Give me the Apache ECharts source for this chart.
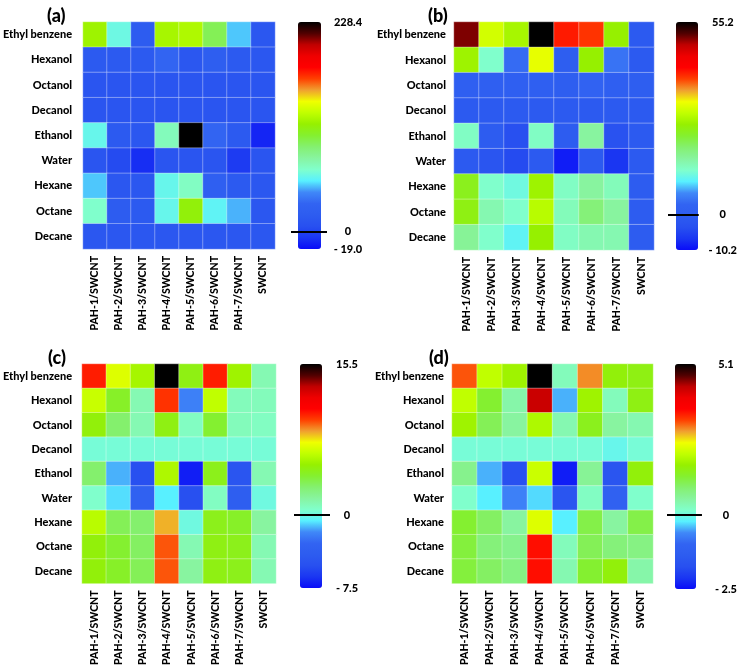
<!DOCTYPE html>
<html><head><meta charset="utf-8">
<script src="https://cdn.jsdelivr.net/npm/echarts@6/dist/echarts.min.js"></script>
<style>html,body{margin:0;padding:0;background:#fff}#c{width:740px;height:668px}</style>
</head><body><div id="c"></div>
<script>
const solvents = ['Ethyl benzene','Hexanol','Octanol','Decanol','Ethanol','Water','Hexane','Octane','Decane'];
const composites = ['PAH-1/SWCNT','PAH-2/SWCNT','PAH-3/SWCNT','PAH-4/SWCNT','PAH-5/SWCNT','PAH-6/SWCNT','PAH-7/SWCNT','SWCNT'];
const panelTitles = ['(a)','(b)','(c)','(d)'];

const rangeA = [-19.0, 228.4];
const rangeB = [-10.2, 55.2];
const rangeC = [-7.5, 15.5];
const rangeD = [-2.5, 5.1];

const scaleLabelsA = ['228.4','0','- 19.0'];
const scaleLabelsB = ['55.2','0','- 10.2'];
const scaleLabelsC = ['15.5','0','- 7.5'];
const scaleLabelsD = ['5.1','0','- 2.5'];

const valuesA = [
  [119.5, 62.0, 18.1, 122.0, 124.5, 97.3, 50.3, 13.2],
  [15.6, 15.6, 15.6, 30.5, 13.2, 20.6, 15.6, 13.2],
  [10.7, 10.7, 10.7, 10.7, 10.7, 10.7, 10.7, 10.7],
  [10.7, 10.7, 10.7, 10.7, 10.7, 10.7, 10.7, 10.7],
  [60.0, 15.6, 13.2, 72.5, 228.4, 30.5, 15.6, -11.6],
  [10.7, 3.3, -9.1, 10.7, 10.7, 10.7, -4.2, 10.7],
  [50.3, 13.2, 13.2, 60.0, 70.0, 23.0, 15.6, 13.2],
  [67.6, 18.1, 15.6, 60.0, 114.6, 57.7, 47.8, 13.2],
  [13.2, 13.2, 13.2, 13.2, 13.2, 13.2, 13.2, 13.2]
];
const valuesB = [
  [50.6, 30.3, 27.1, 55.2, 40.8, 39.5, 25.8, -1.0],
  [26.4, 12.7, 3.5, 31.7, 0.3, 25.8, 4.2, -1.0],
  [0.9, 0.9, 0.9, 0.9, 0.3, 2.2, 0.9, 0.3],
  [-1.0, -1.0, -1.0, -1.0, -1.0, -1.0, -1.0, -1.0],
  [13.3, -0.4, -3.7, 13.3, -0.4, 16.0, -3.0, -1.0],
  [-1.0, -2.4, -4.3, -1.0, -8.9, -1.0, -6.9, -1.0],
  [23.8, 12.7, 11.4, 26.4, 13.3, 16.0, 14.0, -0.4],
  [24.5, 14.7, 12.7, 28.4, 14.0, 18.6, 16.0, -0.4],
  [16.6, 12.7, 10.1, 25.8, 13.3, 14.7, 14.7, -0.4]
];
const valuesC = [
  [10.4, 7.0, 5.6, 15.5, 4.7, 10.4, 5.4, 1.2],
  [6.5, 4.2, 1.2, 10.0, -2.0, 6.3, 1.0, 1.0],
  [4.9, 2.9, 1.2, 4.7, 0.8, 4.0, 1.0, 0.8],
  [0.3, 0.3, 0.3, 0.3, 0.3, 0.3, 0.3, 0.3],
  [2.9, -1.3, -5.2, 5.8, -7.0, 4.5, -4.7, 1.2],
  [0.55, -0.8, -3.4, -0.6, -5.2, 0.8, -3.8, 0.1],
  [6.1, 3.3, 2.9, 8.4, 0.1, 4.5, 4.2, 1.7],
  [4.9, 4.0, 3.1, 9.5, 1.2, 4.7, 4.5, 1.2],
  [4.9, 4.2, 3.3, 9.5, 1.7, 4.7, 4.5, 1.2]
];
const valuesD = [
  [3.12, 2.06, 1.76, 5.1, 0.31, 2.9, 1.6, 1.53],
  [2.06, 1.3, 0.46, 4.26, -0.45, 1.76, 0.31, 1.53],
  [1.76, 1.07, 0.54, 1.9, 0.39, 1.45, 0.54, 0.39],
  [0.08, 0.08, 0.08, 0.08, 0.08, 0.08, -0.07, 0.08],
  [0.69, -0.45, -1.74, 2.14, -2.35, 0.62, -1.59, 1.6],
  [0.16, -0.22, -0.68, -0.3, -1.59, 0.24, -1.13, 0.16],
  [1.3, 1.0, 0.54, 2.29, -0.22, 1.15, 0.54, 1.15],
  [1.22, 0.84, 0.69, 3.5, 0.31, 1.07, 0.84, 0.77],
  [1.22, 1.0, 0.77, 3.5, 0.39, 1.3, 1.6, 0.46]
];

const palette = ['#0a0cf8','#1a36f2','#2850f0','#2d5cf0','#3264f2','#4088f8','#58f0ff','#80ffcc','#88f4a0','#84f070',
  '#84f030','#96f000','#c0ff00','#f0ff00','#f0a030','#ff4000','#ff0000','#f00000','#c00000','#500000','#000000'];

const panels = [
  {values: valuesA, range: rangeA, labels: scaleLabelsA, title: panelTitles[0]},
  {values: valuesB, range: rangeB, labels: scaleLabelsB, title: panelTitles[1]},
  {values: valuesC, range: rangeC, labels: scaleLabelsC, title: panelTitles[2]},
  {values: valuesD, range: rangeD, labels: scaleLabelsD, title: panelTitles[3]}
];

// layout only
const layout = [
  {grid:{left:77,top:22,width:198,height:227}, ymargin:11, bar:{left:298,width:23}, cb:{left:291,width:36}, lblMargin:21, title:{left:42,top:2}},
  {grid:{left:454,top:22,width:200,height:228}, ymargin:8, bar:{left:676,width:22}, cb:{left:668,width:35}, lblMargin:24, title:{left:423,top:2}},
  {grid:{left:74,top:364,width:202,height:224}, ymargin:10, bar:{left:300,width:22}, cb:{left:294,width:36}, lblMargin:17, title:{left:43,top:344}},
  {grid:{left:452,top:364,width:201,height:225}, ymargin:8, bar:{left:675,width:21}, cb:{left:667,width:36}, lblMargin:24, title:{left:424,top:344}}
];

const FONT = 'Lato';
const option = {
  animation:false, backgroundColor:'#fff',
  title:[], grid:[], xAxis:[], yAxis:[], series:[], visualMap:[]
};

panels.forEach((p, i) => {
  const L = layout[i];
  option.title.push({text:p.title, left:L.title.left, top:L.title.top,
    textStyle:{fontFamily:FONT, fontWeight:900, fontSize:18, color:'#000'}});
  option.grid.push(Object.assign({}, L.grid));
  option.xAxis.push({type:'category', gridIndex:i, data:composites, position:'bottom',
    axisLine:{show:false}, axisTick:{show:false}, splitLine:{show:false},
    axisLabel:{rotate:90, margin:7, interval:0, fontFamily:FONT, fontWeight:900, fontSize:10.5, color:'#000'}});
  option.yAxis.push({type:'category', gridIndex:i, data:solvents, inverse:true,
    axisLine:{show:false}, axisTick:{show:false}, splitLine:{show:false},
    axisLabel:{margin:L.ymargin, interval:0, fontFamily:FONT, fontWeight:900, fontSize:11, color:'#000'}});
  const data = [];
  p.values.forEach((row, r) => row.forEach((v, c) => data.push([c, r, v])));
  option.series.push({type:'heatmap', xAxisIndex:i, yAxisIndex:i, data:data,
    itemStyle:{borderColor:'rgba(255,255,255,0.35)', borderWidth:1},
    emphasis:{disabled:true}, silent:true});
  option.visualMap.push({type:'continuous', seriesIndex:i, min:p.range[0], max:p.range[1],
    left:L.bar.left, top:L.grid.top, itemWidth:L.bar.width, itemHeight:L.grid.height,
    padding:0, calculable:false, hoverLink:false, text:null, show:true,
    inRange:{color:palette}});
});

panels.forEach((p, i) => {
  const L = layout[i];
  const gi = 4 + i;
  option.grid.push({left:L.cb.left, width:L.cb.width, top:L.grid.top, height:L.grid.height});
  option.xAxis.push({type:'value', gridIndex:gi, min:0, max:1, show:false});
  option.yAxis.push({type:'value', gridIndex:gi, min:p.range[0], max:p.range[1], position:'right',
    axisLine:{show:false}, axisTick:{show:false}, splitLine:{show:false},
    axisLabel:{customValues:[p.range[1], 0, p.range[0]], margin:L.lblMargin, align:'center',
      fontFamily:FONT, fontWeight:900, fontSize:11, color:'#000',
      formatter:(v) => v === p.range[1] ? p.labels[0] : (v === 0 ? p.labels[1] : p.labels[2])}});
  option.series.push({type:'line', xAxisIndex:gi, yAxisIndex:gi, data:[[0.5, 0]], symbol:'none', silent:true,
    z:10, markLine:{silent:true, symbol:['none','none'], label:{show:false},
      lineStyle:{color:'#000', width:2, type:'solid'}, data:[{yAxis:0}]}});
});

const chart = echarts.init(document.getElementById('c'), null, {renderer:'canvas'});
chart.setOption(option);
</script></body></html>
